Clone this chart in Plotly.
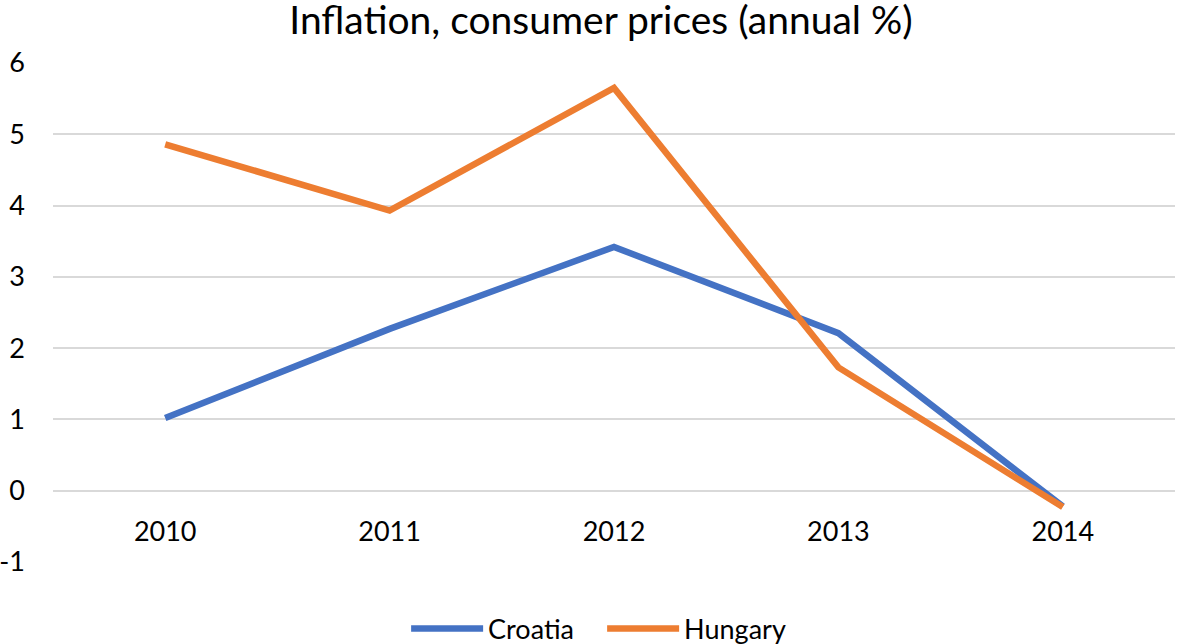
import plotly.graph_objects as go

years = ["2010", "2011", "2012", "2013", "2014"]
croatia = [1.02, 2.27, 3.42, 2.21, -0.22]
hungary = [4.86, 3.93, 5.65, 1.73, -0.23]
y_ticks = [-1, 0, 1, 2, 3, 4, 5, 6]
y_tick_labels = ["-1", "0", "1", "2", "3", "4", "5", "6"]

FONT = "Lato"

fig = go.Figure()
fig.add_trace(go.Scatter(x=years, y=croatia, mode="lines", name="Croatia",
                         line=dict(color="#4472C4", width=6.5)))
fig.add_trace(go.Scatter(x=years, y=hungary, mode="lines", name="Hungary",
                         line=dict(color="#ED7D31", width=6.5)))

fig.update_layout(
    width=1181, height=644,
    paper_bgcolor="white", plot_bgcolor="white",
    margin=dict(l=53, r=6, t=63, b=82, autoexpand=False),
    font=dict(family=FONT, color="#000000", size=27),
    title=dict(text="Inflation, consumer prices (annual %)", x=601 / 1181, xanchor="center",
               y=1 - 20 / 644, yanchor="middle", yref="container",
               font=dict(size=39, family=FONT, color="#000000")),
    showlegend=True,
    legend=dict(orientation="h", x=578 / 1181, xanchor="center", y=(562 - 629) / 499,
                yref="paper", yanchor="middle", font=dict(size=27),
                itemwidth=72, entrywidth=109, entrywidthmode="pixels",
                traceorder="normal"),
    xaxis=dict(type="category", range=[-0.5, 4.5], showgrid=False, showline=False,
               zeroline=False, ticks="", anchor="free", position=71 / 499,
               tickfont=dict(size=27), ticklabelstandoff=22, automargin=False),
    yaxis=dict(range=[-1, 6], tickvals=y_ticks, ticktext=y_tick_labels,
               showgrid=True, gridcolor="#D9D9D9",
               gridwidth=2, zeroline=False, showline=False, ticks="",
               tickfont=dict(size=27), ticklabelstandoff=27, automargin=False),
)

fig.write_html("out.html", config={"displayModeBar": False},
               post_script="document.body.style.margin='0';document.body.style.overflow='hidden';")
